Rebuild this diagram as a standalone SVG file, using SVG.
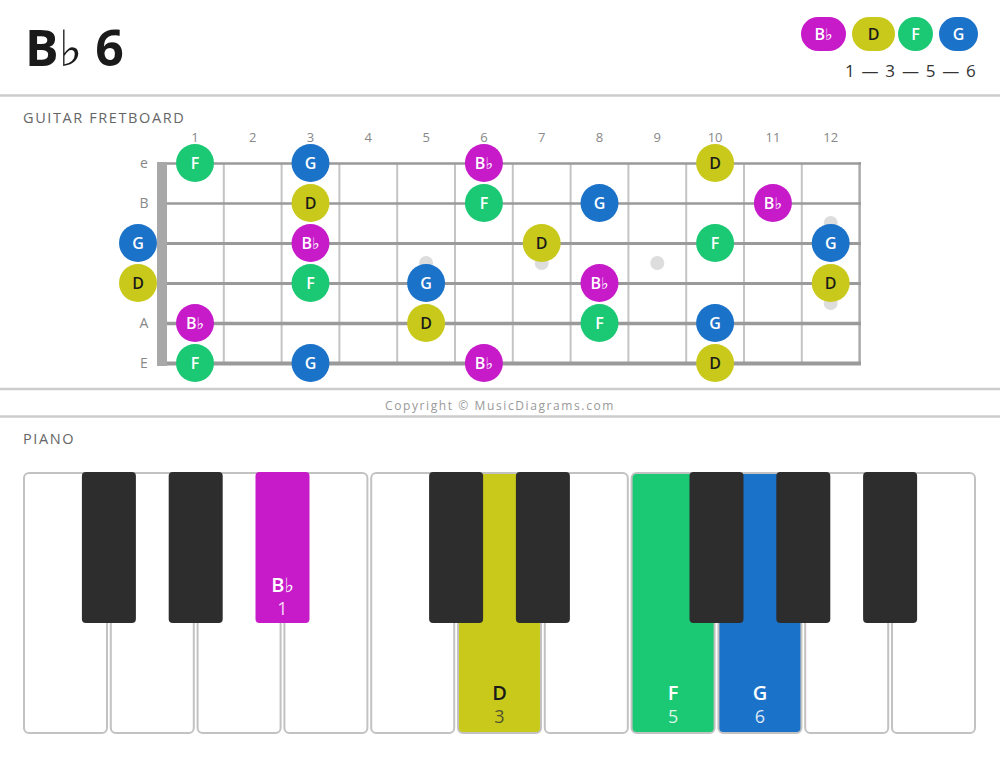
<svg xmlns="http://www.w3.org/2000/svg" width="1000" height="759" viewBox="0 0 1000 759">
<style>
text{font-family:"Open Sans","Noto Sans","DejaVu Sans",sans-serif}
.sep{stroke:#cccccc;stroke-width:2.5}
.hdr{font-size:14.5px;fill:#666;letter-spacing:1.6px;font-weight:500}
.fn{font-size:13px;fill:#888;text-anchor:middle}
.sl{font-size:14px;fill:#888;text-anchor:middle}
.str{stroke:#9a9a9a}
.fret{stroke:#c4c4c4;stroke-width:2}
.dot{fill:#dddddd}
.nt{font-size:16px;font-weight:600;text-anchor:middle;fill:#fff}
.dk{fill:#1a1a1a}
.bb{fill:#C71BC9}.dd{fill:#C9C91B}.ff{fill:#1BC974}.gg{fill:#1B72C9}
.wk{fill:#fff;stroke:#c2c2c2;stroke-width:2}
.bk{fill:#2d2d2d}
.kl{font-size:20px;font-weight:600;text-anchor:middle;fill:#fff}
.kn{font-size:18px;text-anchor:middle;fill:#fff;fill-opacity:0.85}
</style>
<rect width="1000" height="759" fill="#fff"/>
<g id="title">
<text x="25" y="66" font-size="50" font-weight="700" fill="#1a1a1a">B♭ 6</text>
</g>
<g id="legend">
<rect x="801" y="17" width="45" height="34" rx="17" class="bb"/>
<text x="823.5" y="40" class="nt">B♭</text>
<rect x="852" y="17" width="43" height="34" rx="17" class="dd"/>
<text x="873.5" y="40" class="nt dk">D</text>
<rect x="898" y="17" width="35" height="34" rx="17" class="ff"/>
<text x="915.5" y="40" class="nt">F</text>
<rect x="939" y="17" width="39" height="34" rx="17" class="gg"/>
<text x="958.5" y="40" class="nt">G</text>
<text x="977" y="77" font-size="17" fill="#333" text-anchor="end" letter-spacing="1.2">1 — 3 — 5 — 6</text>
</g>
<g id="separators">
<line x1="0" y1="95.5" x2="1000" y2="95.5" class="sep"/>
<line x1="0" y1="389" x2="1000" y2="389" class="sep"/>
<line x1="0" y1="416.5" x2="1000" y2="416.5" class="sep"/>
</g>
<text x="23" y="123" class="hdr">GUITAR FRETBOARD</text>
<g id="fret-numbers">
<text x="195" y="141.5" class="fn">1</text>
<text x="252.7" y="141.5" class="fn">2</text>
<text x="310.5" y="141.5" class="fn">3</text>
<text x="368.3" y="141.5" class="fn">4</text>
<text x="426.1" y="141.5" class="fn">5</text>
<text x="483.9" y="141.5" class="fn">6</text>
<text x="541.7" y="141.5" class="fn">7</text>
<text x="599.5" y="141.5" class="fn">8</text>
<text x="657.3" y="141.5" class="fn">9</text>
<text x="715.1" y="141.5" class="fn">10</text>
<text x="772.9" y="141.5" class="fn">11</text>
<text x="830.7" y="141.5" class="fn">12</text>
</g>
<g id="string-labels">
<text x="144" y="168" class="sl">e</text>
<text x="144" y="208" class="sl">B</text>
<text x="144" y="328" class="sl">A</text>
<text x="144" y="368" class="sl">E</text>
</g>
<g id="fretboard">
<g class="fret">
<line x1="223.8" y1="163" x2="223.8" y2="364"/>
<line x1="281.6" y1="163" x2="281.6" y2="364"/>
<line x1="339.4" y1="163" x2="339.4" y2="364"/>
<line x1="397.2" y1="163" x2="397.2" y2="364"/>
<line x1="455" y1="163" x2="455" y2="364"/>
<line x1="512.8" y1="163" x2="512.8" y2="364"/>
<line x1="570.6" y1="163" x2="570.6" y2="364"/>
<line x1="628.4" y1="163" x2="628.4" y2="364"/>
<line x1="686.2" y1="163" x2="686.2" y2="364"/>
<line x1="744" y1="163" x2="744" y2="364"/>
<line x1="801.8" y1="163" x2="801.8" y2="364"/>
<line x1="859.6" y1="162" x2="859.6" y2="365" stroke="#aaa" stroke-width="2.5"/>
</g>
<g class="str">
<line x1="157" y1="163.5" x2="861" y2="163.5" stroke-width="2.5"/>
<line x1="157" y1="203.5" x2="861" y2="203.5" stroke-width="2.5"/>
<line x1="157" y1="243.5" x2="861" y2="243.5" stroke-width="3"/>
<line x1="157" y1="283.5" x2="861" y2="283.5" stroke-width="3"/>
<line x1="157" y1="323.5" x2="861" y2="323.5" stroke-width="3.5"/>
<line x1="157" y1="363.5" x2="861" y2="363.5" stroke-width="4"/>
</g>
<rect x="157" y="162" width="10" height="204" fill="#a8a8a8"/>
<circle cx="426.1" cy="263" r="7" class="dot"/>
<circle cx="541.7" cy="263" r="7" class="dot"/>
<circle cx="657.3" cy="263" r="7" class="dot"/>
<circle cx="830.7" cy="223" r="7" class="dot"/>
<circle cx="830.7" cy="303" r="7" class="dot"/>
</g>
<g id="notes">
<g id="n-e1"><circle cx="195" cy="163" r="19" class="ff"/><text x="195" y="169" class="nt">F</text></g>
<g id="n-e3"><circle cx="310.5" cy="163" r="19" class="gg"/><text x="310.5" y="169" class="nt">G</text></g>
<g id="n-e6"><circle cx="483.9" cy="163" r="19" class="bb"/><text x="483.9" y="169" class="nt">B♭</text></g>
<g id="n-e10"><circle cx="715.1" cy="163" r="19" class="dd"/><text x="715.1" y="169" class="nt dk">D</text></g>
<g id="n-B3"><circle cx="310.5" cy="203" r="19" class="dd"/><text x="310.5" y="209" class="nt dk">D</text></g>
<g id="n-B6"><circle cx="483.9" cy="203" r="19" class="ff"/><text x="483.9" y="209" class="nt">F</text></g>
<g id="n-B8"><circle cx="599.5" cy="203" r="19" class="gg"/><text x="599.5" y="209" class="nt">G</text></g>
<g id="n-B11"><circle cx="772.9" cy="203" r="19" class="bb"/><text x="772.9" y="209" class="nt">B♭</text></g>
<g id="n-G0"><circle cx="138" cy="243" r="19" class="gg"/><text x="138" y="249" class="nt">G</text></g>
<g id="n-G3"><circle cx="310.5" cy="243" r="19" class="bb"/><text x="310.5" y="249" class="nt">B♭</text></g>
<g id="n-G7"><circle cx="541.7" cy="243" r="19" class="dd"/><text x="541.7" y="249" class="nt dk">D</text></g>
<g id="n-G10"><circle cx="715.1" cy="243" r="19" class="ff"/><text x="715.1" y="249" class="nt">F</text></g>
<g id="n-G12"><circle cx="830.7" cy="243" r="19" class="gg"/><text x="830.7" y="249" class="nt">G</text></g>
<g id="n-D0"><circle cx="138" cy="283" r="19" class="dd"/><text x="138" y="289" class="nt dk">D</text></g>
<g id="n-D3"><circle cx="310.5" cy="283" r="19" class="ff"/><text x="310.5" y="289" class="nt">F</text></g>
<g id="n-D5"><circle cx="426.1" cy="283" r="19" class="gg"/><text x="426.1" y="289" class="nt">G</text></g>
<g id="n-D8"><circle cx="599.5" cy="283" r="19" class="bb"/><text x="599.5" y="289" class="nt">B♭</text></g>
<g id="n-D12"><circle cx="830.7" cy="283" r="19" class="dd"/><text x="830.7" y="289" class="nt dk">D</text></g>
<g id="n-A1"><circle cx="195" cy="323" r="19" class="bb"/><text x="195" y="329" class="nt">B♭</text></g>
<g id="n-A5"><circle cx="426.1" cy="323" r="19" class="dd"/><text x="426.1" y="329" class="nt dk">D</text></g>
<g id="n-A8"><circle cx="599.5" cy="323" r="19" class="ff"/><text x="599.5" y="329" class="nt">F</text></g>
<g id="n-A10"><circle cx="715.1" cy="323" r="19" class="gg"/><text x="715.1" y="329" class="nt">G</text></g>
<g id="n-E1"><circle cx="195" cy="363" r="19" class="ff"/><text x="195" y="369" class="nt">F</text></g>
<g id="n-E3"><circle cx="310.5" cy="363" r="19" class="gg"/><text x="310.5" y="369" class="nt">G</text></g>
<g id="n-E6"><circle cx="483.9" cy="363" r="19" class="bb"/><text x="483.9" y="369" class="nt">B♭</text></g>
<g id="n-E10"><circle cx="715.1" cy="363" r="19" class="dd"/><text x="715.1" y="369" class="nt dk">D</text></g>
</g>
<text x="500" y="410" font-size="12" fill="#999" text-anchor="middle" letter-spacing="1.6">Copyright © MusicDiagrams.com</text>
<text x="23" y="444" class="hdr">PIANO</text>
<g id="piano">
<g id="white-keys">
<rect x="24" y="473" width="83" height="260" rx="5" class="wk"/>
<rect x="110.8" y="473" width="83" height="260" rx="5" class="wk"/>
<rect x="197.6" y="473" width="83" height="260" rx="5" class="wk"/>
<rect x="284.4" y="473" width="83" height="260" rx="5" class="wk"/>
<rect x="371.2" y="473" width="83" height="260" rx="5" class="wk"/>
<rect x="458" y="473" width="83" height="260" rx="5" class="wk" style="fill:#C9C91B"/>
<rect x="544.8" y="473" width="83" height="260" rx="5" class="wk"/>
<rect x="631.6" y="473" width="83" height="260" rx="5" class="wk" style="fill:#1BC974"/>
<rect x="718.4" y="473" width="83" height="260" rx="5" class="wk" style="fill:#1B72C9"/>
<rect x="805.2" y="473" width="83" height="260" rx="5" class="wk"/>
<rect x="892" y="473" width="83" height="260" rx="5" class="wk"/>
</g>
<g id="black-keys">
<rect x="81.9" y="472" width="54" height="151" rx="4" class="bk"/>
<rect x="168.7" y="472" width="54" height="151" rx="4" class="bk"/>
<rect x="255.5" y="472" width="54" height="151" rx="4" class="bb"/>
<rect x="429.1" y="472" width="54" height="151" rx="4" class="bk"/>
<rect x="515.9" y="472" width="54" height="151" rx="4" class="bk"/>
<rect x="689.5" y="472" width="54" height="151" rx="4" class="bk"/>
<rect x="776.3" y="472" width="54" height="151" rx="4" class="bk"/>
<rect x="863.1" y="472" width="54" height="151" rx="4" class="bk"/>
</g>
<g id="key-labels">
<text x="282.5" y="592" class="kl">B♭</text>
<text x="282.5" y="615" class="kn">1</text>
<text x="499.5" y="700" class="kl" style="fill:#1a1a1a">D</text>
<text x="499.5" y="723" class="kn" style="fill:#333;fill-opacity:0.8">3</text>
<text x="673.1" y="700" class="kl">F</text>
<text x="673.1" y="723" class="kn">5</text>
<text x="759.9" y="700" class="kl">G</text>
<text x="759.9" y="723" class="kn">6</text>
</g>
</g>
</svg>
